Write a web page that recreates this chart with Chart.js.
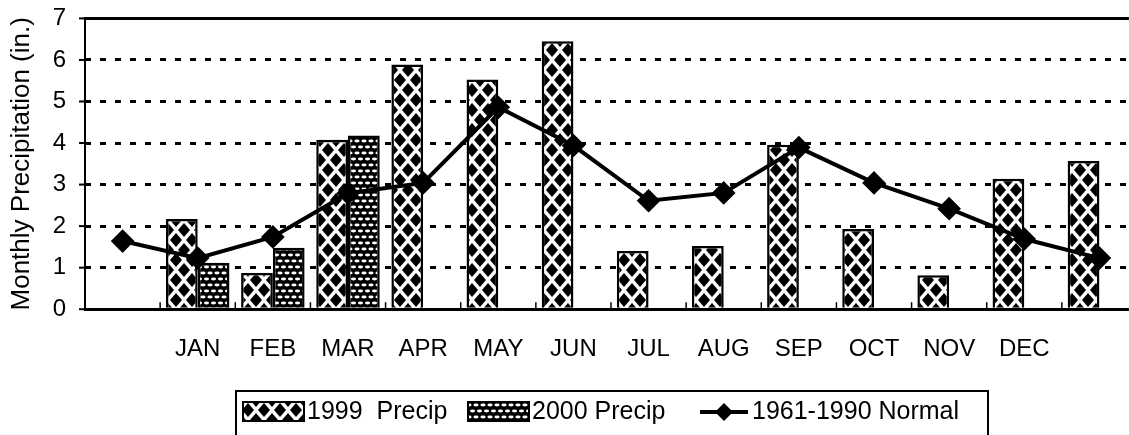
<!DOCTYPE html>
<html>
<head>
<meta charset="utf-8">
<script src="https://cdn.jsdelivr.net/npm/chart.js@4"></script>
<style>
  html, body { margin: 0; padding: 0; background: #fff; overflow: hidden; }
  #wrap { width: 1129px; height: 435px; overflow: hidden; }
</style>
</head>
<body>
<div id="wrap"><canvas id="chart" width="1150" height="435"></canvas></div>
<script>
// datos (primera y ultima categoria sin etiqueta)
const months = ["", "JAN", "FEB", "MAR", "APR", "MAY", "JUN", "JUL", "AUG", "SEP", "OCT", "NOV", "DEC", ""];
const precip1999 = [null, 2.17, 0.87, 4.08, 5.89, 5.53, 6.45, 1.40, 1.52, 3.96, 1.93, 0.82, 3.14, 3.57];
const precip2000 = [null, 1.12, 1.48, 4.18, null, null, null, null, null, null, null, null, null, null];
const normal = [1.64, 1.23, 1.74, 2.79, 3.04, 4.86, 3.94, 2.61, 2.80, 3.89, 3.04, 2.42, 1.69, 1.23];
const yTicks = [0, 1, 2, 3, 4, 5, 6, 7];
const seriesLabels = ["1999  Precip", "2000 Precip", "1961-1990 Normal"];
const yTitle = "Monthly Precipitation (in.)";

const FONT = "'Liberation Sans', Arial, Helvetica, sans-serif";

// patrones de relleno
function diamondPattern() {
  const c = document.createElement("canvas");
  c.width = 16;
  c.height = 20;
  const g = c.getContext("2d");
  g.fillStyle = "#fff";
  g.fillRect(0, 0, 16, 20);
  g.fillStyle = "#000";
  const centers = [[8, 10], [0, 0], [16, 0], [0, 20], [16, 20]];
  centers.forEach(([x, y]) => {
    g.beginPath();
    g.moveTo(x, y - 7);
    g.lineTo(x + 6, y);
    g.lineTo(x, y + 7);
    g.lineTo(x - 6, y);
    g.closePath();
    g.fill();
  });
  return g.createPattern(c, "repeat");
}

function dotPattern() {
  const c = document.createElement("canvas");
  c.width = 14;
  c.height = 12;
  const g = c.getContext("2d");
  g.fillStyle = "#000";
  g.fillRect(0, 0, 14, 12);
  g.fillStyle = "#fff";
  const spots = [[3.5, 3], [10.5, 3], [0, 9], [7, 9], [14, 9]];
  spots.forEach(([x, y]) => {
    g.beginPath();
    g.ellipse(x, y, 2.6, 1.4, 0, 0, Math.PI * 2);
    g.fill();
  });
  return g.createPattern(c, "repeat");
}

const pat1999 = diamondPattern();
const pat2000 = dotPattern();

// borde superior, marcas del eje y y marcas pequeñas en el eje x
const framePlugin = {
  id: "frame",
  beforeDatasetsDraw(chart) {
    const { ctx, chartArea } = chart;
    const x = chart.scales.x;
    const y = chart.scales.y;
    ctx.save();
    ctx.strokeStyle = "#000";
    ctx.lineWidth = 3;
    ctx.beginPath();
    ctx.moveTo(chartArea.left, chartArea.top);
    ctx.lineTo(chartArea.right, chartArea.top);
    ctx.lineTo(chartArea.right, chartArea.bottom);
    ctx.stroke();
    ctx.lineWidth = 2;
    yTicks.forEach((v) => {
      const py = y.getPixelForValue(v);
      ctx.beginPath();
      ctx.moveTo(chartArea.left - 6, py);
      ctx.lineTo(chartArea.left + 3, py);
      ctx.stroke();
    });
    ctx.lineWidth = 1.5;
    for (let i = 0; i < months.length - 1; i++) {
      const px = (x.getPixelForValue(i) + x.getPixelForValue(i + 1)) / 2;
      ctx.beginPath();
      ctx.moveTo(px, chartArea.bottom);
      ctx.lineTo(px, chartArea.bottom - 7);
      ctx.stroke();
    }
    ctx.restore();
  },
};

// leyenda con recuadro
const legendPlugin = {
  id: "boxLegend",
  afterDraw(chart) {
    const ctx = chart.ctx;
    const midY = 412;
    ctx.save();
    ctx.strokeStyle = "#000";
    ctx.lineWidth = 2;
    ctx.strokeRect(236, 391, 752, 60);

    ctx.font = "25px " + FONT;
    ctx.fillStyle = "#000";
    ctx.textBaseline = "middle";

    ctx.fillStyle = pat1999;
    ctx.fillRect(243, 402, 61, 19);
    ctx.strokeRect(243, 402, 61, 19);
    ctx.fillStyle = "#000";
    ctx.fillText(seriesLabels[0], 307, midY);

    ctx.fillStyle = pat2000;
    ctx.fillRect(468, 402, 61, 19);
    ctx.strokeRect(468, 402, 61, 19);
    ctx.fillStyle = "#000";
    ctx.fillText(seriesLabels[1], 532, midY);

    ctx.lineWidth = 4;
    ctx.beginPath();
    ctx.moveTo(700, midY);
    ctx.lineTo(748, midY);
    ctx.stroke();
    ctx.beginPath();
    ctx.moveTo(724, midY - 9);
    ctx.lineTo(733, midY);
    ctx.lineTo(724, midY + 9);
    ctx.lineTo(715, midY);
    ctx.closePath();
    ctx.fill();
    ctx.fillText(seriesLabels[2], 752, midY);
    ctx.restore();
  },
};

new Chart(document.getElementById("chart"), {
  data: {
    labels: months,
    datasets: [
      {
        type: "line",
        label: seriesLabels[2],
        data: normal,
        borderColor: "#000",
        borderWidth: 4,
        pointStyle: "rectRot",
        pointRadius: 9,
        pointBackgroundColor: "#000",
        pointBorderColor: "#000",
        tension: 0,
        order: 0,
      },
      {
        type: "bar",
        label: seriesLabels[0],
        data: precip1999,
        backgroundColor: pat1999,
        borderColor: "#000",
        borderWidth: 2.5,
        categoryPercentage: 0.845,
        barPercentage: 1.0,
        order: 1,
      },
      {
        type: "bar",
        label: seriesLabels[1],
        data: precip2000,
        backgroundColor: pat2000,
        borderColor: "#000",
        borderWidth: 2.5,
        categoryPercentage: 0.845,
        barPercentage: 1.0,
        order: 1,
      },
    ],
  },
  options: {
    responsive: false,
    animation: false,
    layout: { padding: { top: 0, left: 0, right: 5, bottom: 53 } },
    plugins: {
      legend: { display: false },
      tooltip: { enabled: false },
    },
    scales: {
      x: {
        offset: true,
        grid: { display: false },
        border: { color: "#000", width: 3 },
        ticks: {
          color: "#000",
          font: { family: FONT, size: 24 },
          padding: 18,
          maxRotation: 0,
          autoSkip: false,
        },
      },
      y: {
        min: 0,
        max: 7,
        afterBuildTicks: (scale) => {
          scale.ticks = yTicks.map((v) => ({ value: v }));
        },
        afterFit: (scale) => {
          scale.width = 85;
        },
        grid: {
          color: (c) => (c.tick && (c.tick.value === 0 || c.tick.value === 7) ? "rgba(0,0,0,0)" : "#000"),
          lineWidth: 3,
          tickColor: "rgba(0,0,0,0)",
          tickLength: 15,
        },
        border: { color: "#000", width: 2, dash: [6, 9], dashOffset: -14 },
        ticks: {
          color: "#000",
          font: { family: FONT, size: 24 },
          padding: 4,
        },
        title: {
          display: true,
          text: yTitle,
          color: "#000",
          font: { family: FONT, size: 26 },
          padding: { top: 6, bottom: 0 },
        },
      },
    },
  },
  plugins: [framePlugin, legendPlugin],
});
</script>
</body>
</html>
